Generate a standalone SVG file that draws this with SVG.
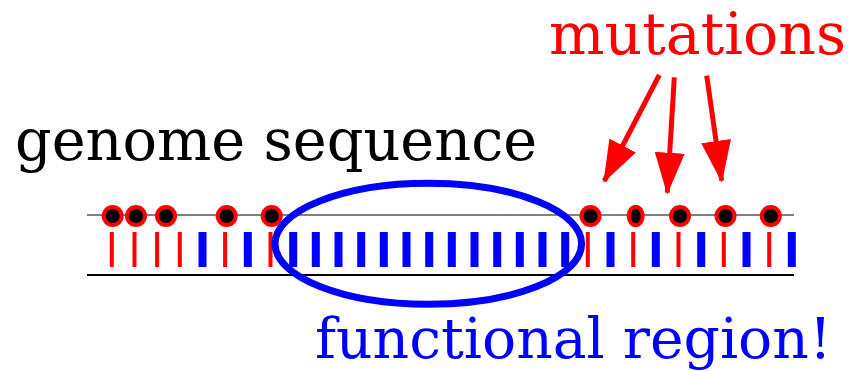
<svg xmlns="http://www.w3.org/2000/svg" width="850" height="371" viewBox="0 0 850 371">
  <style>
    .lbl { font-family: "DejaVu Serif", serif; }
    .r { fill: #ff0000; }
    .b { fill: #0000ff; }
    .site { fill: #000000; stroke: #ff0000; stroke-width: 4; }
    .arrow { stroke: #ff0000; stroke-width: 5; fill: none; marker-end: url(#head); }
  </style>
  <defs>
    <marker id="head" markerUnits="userSpaceOnUse" markerWidth="42" markerHeight="30" refX="40" refY="15" orient="auto" viewBox="0 0 42 30">
      <path d="M0,0 L42,15 L0,30 Z" fill="#ff0000"/>
    </marker>
  </defs>

  <rect width="850" height="371" fill="#ffffff"/>

  <!-- strand backbone -->
  <g id="strand">
    <line x1="87" y1="215" x2="794" y2="215" stroke="#808080" stroke-width="2"/>
    <line x1="87" y1="275" x2="794" y2="275" stroke="#000000" stroke-width="2"/>
  </g>

  <!-- bases: thin red = mutated, wide blue = conserved -->
  <g id="bases">
    <rect class="r" x="109.8" y="232" width="4" height="35"/>
    <rect class="r" x="132.5" y="232" width="4" height="35"/>
    <rect class="r" x="155.1" y="232" width="4" height="35"/>
    <rect class="r" x="177.8" y="232" width="4" height="35"/>
    <rect class="b" x="198.5" y="232" width="8" height="35"/>
    <rect class="r" x="223.1" y="232" width="4" height="35"/>
    <rect class="b" x="243.8" y="232" width="8" height="35"/>
    <rect class="r" x="268.5" y="232" width="4" height="35"/>
    <rect class="b" x="289.2" y="232" width="8" height="35"/>
    <rect class="b" x="311.8" y="232" width="8" height="35"/>
    <rect class="b" x="334.5" y="232" width="8" height="35"/>
    <rect class="b" x="357.2" y="232" width="8" height="35"/>
    <rect class="b" x="379.8" y="232" width="8" height="35"/>
    <rect class="b" x="402.5" y="232" width="8" height="35"/>
    <rect class="b" x="425.2" y="232" width="8" height="35"/>
    <rect class="b" x="447.8" y="232" width="8" height="35"/>
    <rect class="b" x="470.5" y="232" width="8" height="35"/>
    <rect class="b" x="493.2" y="232" width="8" height="35"/>
    <rect class="b" x="515.8" y="232" width="8" height="35"/>
    <rect class="b" x="538.5" y="232" width="8" height="35"/>
    <rect class="b" x="561.2" y="232" width="8" height="35"/>
    <rect class="r" x="585.8" y="232" width="4" height="35"/>
    <rect class="b" x="606.5" y="232" width="8" height="35"/>
    <rect class="r" x="631.2" y="232" width="4" height="35"/>
    <rect class="b" x="651.8" y="232" width="8" height="35"/>
    <rect class="r" x="676.5" y="232" width="4" height="35"/>
    <rect class="b" x="697.2" y="232" width="8" height="35"/>
    <rect class="r" x="721.8" y="232" width="4" height="35"/>
    <rect class="b" x="742.5" y="232" width="8" height="35"/>
    <rect class="r" x="767.2" y="232" width="4" height="35"/>
    <rect class="b" x="787.8" y="232" width="8" height="35"/>
  </g>

  <!-- mutation sites -->
  <g id="sites">
    <circle class="site" cx="112.7" cy="216" r="9"/>
    <circle class="site" cx="136" cy="216" r="9"/>
    <circle class="site" cx="166" cy="216" r="9"/>
    <circle class="site" cx="226.7" cy="216" r="9"/>
    <circle class="site" cx="271.7" cy="216" r="9"/>
    <circle class="site" cx="590.5" cy="216" r="9"/>
    <ellipse class="site" cx="635.7" cy="216" rx="7" ry="9.3"/>
    <circle class="site" cx="680" cy="216" r="9"/>
    <circle class="site" cx="725.5" cy="216" r="9"/>
    <circle class="site" cx="770.8" cy="216" r="9"/>
  </g>

  <!-- conserved region outline -->
  <g id="region">
    <ellipse cx="428.3" cy="243.8" rx="153.3" ry="60.5" fill="none" stroke="#0000ff" stroke-width="7"/>
  </g>

  <!-- pointers from the label to the sites -->
  <g id="connectors">
    <line class="arrow" x1="659.3" y1="75" x2="604.3" y2="181"/>
    <line class="arrow" x1="674.3" y1="77.3" x2="667.3" y2="192.7"/>
    <line class="arrow" x1="706.7" y1="75.7" x2="721.7" y2="180.7"/>
  </g>

  <g id="label-mutations">
    <text class="lbl" x="549" y="54" font-size="58.6" fill="#ff0000">mutations</text>
  </g>
  <g id="label-genome">
    <text class="lbl" x="15" y="160" font-size="57.3" fill="#000000">genome sequence</text>
  </g>
  <g id="label-region">
    <text class="lbl" x="315" y="358" font-size="56.8" fill="#0000ff">functional region!</text>
  </g>
</svg>
